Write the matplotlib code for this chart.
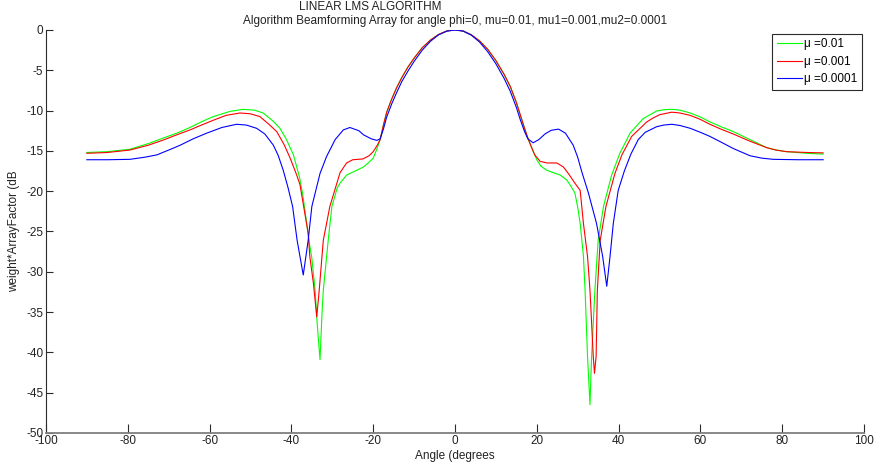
import matplotlib

matplotlib.use("Agg")
import matplotlib.pyplot as plt  # noqa: E402

plt.rcParams["font.family"] = ["Liberation Sans", "DejaVu Sans"]
plt.rcParams["axes.unicode_minus"] = False

# array factor (dB) vs steering angle, one trace per step size
angle_mu1 = [-90, -85, -79.5, -75, -71.3, -68, -64.8, -62, -59.1, -55, -51.8, -49,
             -46.9, -44.5, -42.8, -41.2, -39.5, -38.0, -37.2, -36.4, -35.5, -35.0,
             -34.2, -33.7, -33.0, -32.5, -32.2, -31.0, -30.1, -28.8, -28.1, -26.5,
             -25.7, -24, -22.4, -21, -20, -19.2, -18.3, -17.5, -16.7, -15.5, -14.3,
             -13, -11.5, -10, -8, -6, -4, -2, 0, 2, 4, 6, 8, 10, 12, 13.5, 15, 16,
             17, 17.8, 18.5, 19.3, 20.0, 21.0, 22.4, 24.0, 25.7, 27.3, 28.1, 29.3,
             30.0, 30.6, 31.4, 31.8, 32.4, 33.0, 33.4, 34.2, 35.0, 36.3, 38.3, 40.3,
             42.8, 46.0, 49.3, 51, 53.0, 55, 57.5, 60, 62.3, 65, 68, 72.1, 76.2,
             78.5, 81.1, 86, 90]
db_mu1 = [-15.2, -15.1, -14.8, -14.1, -13.4, -12.8, -12.1, -11.4, -10.75, -10.1, -9.85,
          -9.95, -10.3, -11.3, -12.2, -13.6, -15.5, -18.3, -20.5, -23.5, -26.8,
          -28.3, -32.3, -36.4, -40.9, -35.0, -32.3, -26.1, -21.9, -19.6, -19.0,
          -18.0, -17.8, -17.4, -17.0, -16.4, -15.9, -14.9, -13.6, -11.8, -10.2,
          -8.6, -7.2, -5.9, -4.6, -3.5, -2.2, -1.25, -0.55, -0.12, 0, -0.12, -0.6,
          -1.35, -2.4, -3.8, -5.5, -7.0, -9.0, -10.6, -12.2, -13.4, -14.3, -15.3,
          -16.1, -16.9, -17.4, -17.7, -18.0, -18.6, -19.2, -20.2, -22.0, -24.0,
          -28.1, -32.3, -40.5, -46.5, -40.5, -32.3, -26.1, -21.9, -18.0, -15.3,
          -12.8, -11.0, -10.05, -9.9, -9.84, -9.95, -10.3, -10.8, -11.4, -12.0,
          -12.6, -13.6, -14.6, -14.9, -15.1, -15.3, -15.4]

angle_mu2 = [-90, -85, -79.5, -75, -71.3, -68, -64.8, -62, -59.1, -56, -52.6, -50,
             -47.7, -45.5, -43.6, -41.8, -40.3, -38.7, -37.9, -36.8, -35.9, -35.5,
             -34.6, -33.8, -33.2, -32.2, -30.6, -28.1, -26.5, -25.0, -22.5, -21.0,
             -20.0, -19.0, -18.3, -17.5, -16.7, -15.5, -14.3, -13, -11.5, -10, -8,
             -6, -4, -2, 0, 2, 4, 6, 8, 10, 12, 13.5, 15, 16, 17, 17.8, 18.5, 19.5,
             20.8, 22.5, 24.9, 26.5, 27.7, 29.3, 30.6, 31.4, 32.4, 33.0, 33.8, 34.1,
             34.5, 34.8, 35.5, 36.9, 39.1, 40.8, 43.2, 46.9, 48.5, 50.1, 53.0, 55,
             57.5, 60, 62.3, 65, 68, 72.1, 76.2, 78.5, 81.1, 86, 90]
db_mu2 = [-15.3, -15.2, -14.9, -14.3, -13.65, -13.0, -12.4, -11.8, -11.2, -10.6, -10.3,
          -10.4, -10.75, -11.7, -12.6, -14.2, -15.9, -18.0, -19.2, -22.5, -25.2,
          -28.1, -31.5, -35.6, -32.3, -26.1, -21.9, -17.7, -16.5, -16.1, -16.0,
          -15.6, -15.1, -14.3, -13.6, -11.8, -10.2, -8.6, -7.2, -5.9, -4.6, -3.5,
          -2.2, -1.25, -0.55, -0.12, 0, -0.12, -0.6, -1.35, -2.4, -3.8, -5.5, -7.0,
          -9.0, -10.6, -12.2, -13.4, -14.3, -15.5, -16.3, -16.5, -16.5, -17.0,
          -17.8, -19.0, -19.9, -24.0, -28.1, -32.3, -40.5, -42.6, -40.5, -32.3,
          -26.1, -21.9, -17.8, -15.5, -13.2, -11.4, -10.9, -10.5, -10.2, -10.3,
          -10.6, -11.1, -11.7, -12.3, -12.9, -13.8, -14.6, -14.9, -15.1, -15.2,
          -15.25]

angle_mu3 = [-90, -85, -79.5, -76, -72.9, -70, -67.2, -64, -60.7, -57, -53.4, -51,
             -48.5, -46.5, -44.4, -43.2, -42.0, -40.8, -39.7, -38.6, -37.1, -35.9,
             -35.0, -33.0, -31.4, -29.3, -27.3, -25.7, -23.5, -22.4, -20.5, -19.1,
             -18.3, -17.5, -16.7, -15.5, -14.3, -13, -11.5, -10, -8, -6, -4, -2, 0,
             2, 4, 6, 8, 10, 12, 13.5, 15, 16, 17, 17.8, 19.1, 20.5, 22, 23.5, 25.3,
             27, 28.9, 30, 31, 32.6, 34.6, 36.1, 37.1, 37.9, 38.7, 39.9, 41.4, 43.0,
             44.8, 46.5, 49.3, 51, 53, 55, 57.5, 60, 62.3, 65, 68, 72.1, 75, 77.8,
             84, 90]
db_mu3 = [-16.1, -16.1, -16.05, -15.8, -15.5, -14.9, -14.3, -13.5, -12.8, -12.1, -11.7,
          -11.8, -12.2, -12.9, -14.3, -15.6, -17.4, -19.6, -21.9, -26.1, -30.4,
          -26.1, -21.9, -17.8, -15.7, -13.6, -12.4, -12.1, -12.5, -13.0, -13.5,
          -13.7, -13.5, -12.3, -10.8, -9.2, -7.8, -6.4, -5.1, -3.9, -2.5, -1.4,
          -0.6, -0.15, 0, -0.15, -0.65, -1.5, -2.7, -4.2, -6.0, -7.6, -9.6, -11.2,
          -12.6, -13.5, -14.0, -13.6, -12.9, -12.45, -12.3, -12.8, -14.3, -15.8,
          -17.6, -20.2, -24.0, -28.1, -31.8, -28.1, -24.0, -19.9, -17.5, -15.4,
          -13.6, -12.7, -12.0, -11.8, -11.7, -11.85, -12.2, -12.7, -13.2, -13.9,
          -14.7, -15.6, -15.9, -16.05, -16.1, -16.1]

series_labels = ["\u03bc =0.01", "\u03bc =0.001", "\u03bc =0.0001"]
series_colors = ["#00ff00", "#ff0000", "#0000ff"]

x_ticks = list(range(-100, 101, 20))
y_ticks = list(range(-50, 1, 5))

fs = 8.5
txt_color = "#222222"

fig = plt.figure(figsize=(8.74, 4.69), dpi=100)
ax = fig.add_axes([0.0526, 0.0768, 0.936, 0.8593])

for xs, ys, lab, col in zip(
    [angle_mu1, angle_mu2, angle_mu3],
    [db_mu1, db_mu2, db_mu3],
    series_labels,
    series_colors,
):
    ax.plot(xs, ys, color=col, lw=0.8, label=lab)

ax.set_xlim(-100, 100)
ax.set_ylim(-50, 0)
ax.set_xticks(x_ticks)
ax.set_yticks(y_ticks)

ax.spines["top"].set_visible(False)
ax.spines["right"].set_visible(False)
ax.spines["left"].set_color("#2b2b2b")
ax.spines["left"].set_linewidth(0.8)
ax.spines["bottom"].set_color("#7f7f7f")
ax.spines["bottom"].set_linewidth(1.3)

ax.tick_params(axis="x", direction="in", length=6.5, width=0.8, color="#2b2b2b",
               labelsize=fs, pad=1.5, labelcolor=txt_color)
ax.tick_params(axis="y", direction="in", length=5, width=0.8, color="#2b2b2b",
               labelsize=fs, pad=2, labelcolor=txt_color)

ax.set_xlabel("Angle (degrees", fontsize=fs, color=txt_color, labelpad=2)
ax.set_ylabel("weight*ArrayFactor (dB", fontsize=fs, color=txt_color, labelpad=4)

fig.text(370 / 874, 1 - 7 / 469, "LINEAR LMS ALGORITHM", ha="center", va="center",
         fontsize=fs, color=txt_color)
fig.text(455 / 874, 1 - 21 / 469,
         "Algorithm Beamforming Array for angle phi=0, mu=0.01, mu1=0.001,mu2=0.0001",
         ha="center", va="center", fontsize=fs, color=txt_color)

leg = ax.legend(loc="upper right", bbox_to_anchor=(861.7 / 874, 1 - 33.7 / 469),
                bbox_transform=fig.transFigure, borderaxespad=0, fancybox=False,
                framealpha=1, fontsize=fs, handlelength=2.1, handletextpad=0.15,
                labelspacing=0.45, borderpad=0.4)
leg.get_frame().set_edgecolor("#2b2b2b")
leg.get_frame().set_linewidth(0.8)

fig.savefig("out.png", dpi=100, facecolor="white")
